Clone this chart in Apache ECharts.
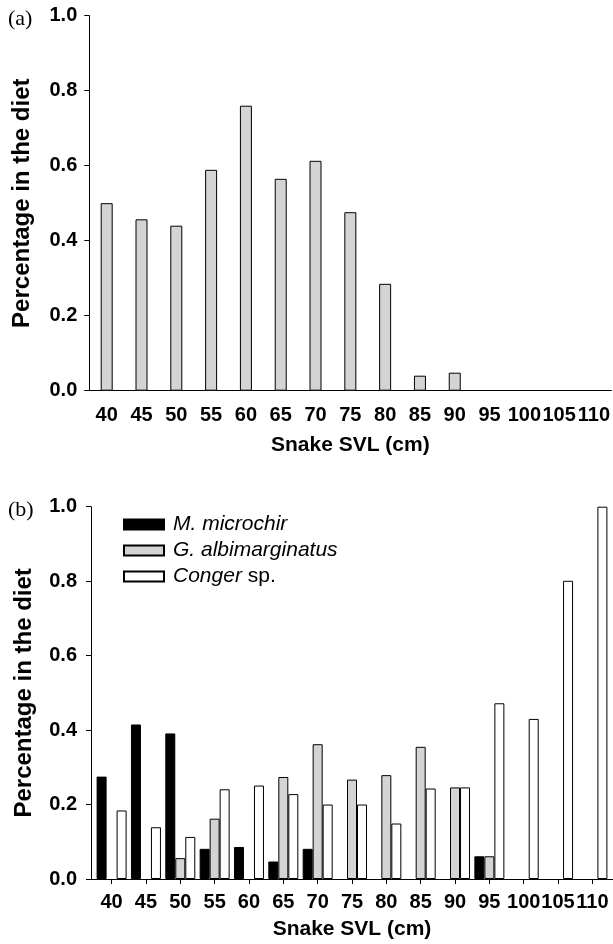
<!DOCTYPE html>
<html lang="en">
<head>
    <meta charset="UTF-8">
    <title>Percentage in the diet by snake SVL</title>
    <style>
        body { margin: 0; background: #fff; }
        #main { width: 613px; height: 944px; }
    </style>
</head>
<body>
<div id="main"></div>
</body>
<script src="https://cdn.jsdelivr.net/npm/echarts@6/dist/echarts.min.js"></script>
<script>
    // size classes (snake SVL, cm)
    var sizeClasses = [40, 45, 50, 55, 60, 65, 70, 75, 80, 85, 90, 95, 100, 105, 110];
    var yTicks = [0, 0.2, 0.4, 0.6, 0.8, 1.0];

    // (a) all prey
    var dietA = [0.50, 0.457, 0.44, 0.589, 0.76, 0.565, 0.613, 0.476, 0.285, 0.04, 0.048, null, null, null, null];

    // (b) per prey species
    var legendNames = ['M. microchir', 'G. albimarginatus', 'Conger sp.'];
    var microchir = [0.275, 0.415, 0.391, 0.081, 0.086, 0.047, 0.081, null, null, null, null, 0.061, null, null, null];
    var albimarginatus = [null, null, 0.056, 0.162, null, 0.274, 0.362, 0.267, 0.279, 0.355, 0.246, 0.061, null, null, null];
    var conger = [0.184, 0.139, 0.113, 0.241, 0.251, 0.228, 0.2, 0.2, 0.149, 0.243, 0.246, 0.472, 0.43, 0.801, 1.0];

    var FONT = 'Liberation Sans';
    var GRAY = '#d4d4d4';

    // [size, value] pairs, empty classes left out so no flat bar is drawn
    function pairs(values) {
        var out = [];
        sizeClasses.forEach(function (s, i) {
            if (values[i] != null) out.push([s, values[i]]);
        });
        return out;
    }

    function yAxisFor(idx, labelMargin) {
        return {
            type: 'value', gridIndex: idx, min: 0, max: 1,
            name: 'Percentage in the diet', nameLocation: 'middle', nameGap: 55,
            nameTextStyle: { fontFamily: FONT, fontWeight: 'bold', fontSize: 24, color: '#000' },
            axisLine: { show: true, onZero: false, lineStyle: { color: '#000', width: 1 } },
            axisTick: { show: true, length: 5, customValues: yTicks, lineStyle: { color: '#000' } },
            axisLabel: {
                customValues: yTicks, margin: labelMargin, color: '#000',
                fontFamily: FONT, fontWeight: 'bold', fontSize: 20,
                formatter: function (v) { return v.toFixed(1); }
            },
            splitLine: { show: false }
        };
    }

    function barSeries(name, color, values) {
        return {
            name: name, type: 'bar', xAxisIndex: 1, yAxisIndex: 1,
            barWidth: 10, barGap: '0%',
            itemStyle: { color: color, borderColor: '#000', borderWidth: 1 },
            data: pairs(values)
        };
    }

    var xNameStyle = { fontFamily: FONT, fontWeight: 'bold', fontSize: 21, color: '#000' };
    var xLabelStyle = { color: '#000', fontFamily: FONT, fontWeight: 'bold', fontSize: 20 };

    var option = {
        animation: false,
        backgroundColor: '#fff',
        grid: [
            { left: 89.3, top: 15.7, width: 525, height: 375 },
            { left: 91, top: 506.7, width: 526, height: 372.3 }
        ],
        xAxis: [
            {
                type: 'category', gridIndex: 0, data: sizeClasses.map(String), boundaryGap: true,
                name: 'Snake SVL (cm)', nameLocation: 'middle', nameGap: 44, nameTextStyle: xNameStyle,
                axisLine: { lineStyle: { color: '#000', width: 1 } },
                axisTick: { alignWithLabel: true, length: 5, lineStyle: { color: '#000' } },
                axisLabel: Object.assign({ margin: 15, interval: 0 }, xLabelStyle),
                splitLine: { show: false }
            },
            {
                type: 'value', gridIndex: 1, min: 37, max: 113,
                name: 'Snake SVL (cm)', nameLocation: 'middle', nameGap: 40, nameTextStyle: xNameStyle,
                axisLine: { onZero: false, lineStyle: { color: '#000', width: 1 } },
                axisTick: { customValues: sizeClasses, length: 5, lineStyle: { color: '#000' } },
                axisLabel: Object.assign({ customValues: sizeClasses, margin: 13 }, xLabelStyle),
                splitLine: { show: false }
            }
        ],
        yAxis: [yAxisFor(0, 12), yAxisFor(1, 14)],
        legend: {
            data: legendNames, orient: 'vertical', left: 123, top: 514, padding: 0,
            itemWidth: 40, itemHeight: 10, itemGap: 5, icon: 'rect',
            textStyle: {
                fontFamily: FONT, fontSize: 21, color: '#000', padding: [0, 0, 0, 4],
                rich: { i: { fontFamily: FONT, fontSize: 21, fontStyle: 'italic', color: '#000' } }
            },
            formatter: function (name) {
                if (name === 'Conger sp.') return '{i|Conger} sp.';
                return '{i|' + name + '}';
            }
        },
        graphic: [
            { type: 'text', left: 8, top: 8, style: { text: '(a)', font: '22px "Liberation Serif"', fill: '#000' } },
            { type: 'text', left: 8, top: 499, style: { text: '(b)', font: '22px "Liberation Serif"', fill: '#000' } }
        ],
        series: [
            {
                name: 'all prey', type: 'bar', xAxisIndex: 0, yAxisIndex: 0, barWidth: 12,
                itemStyle: { color: GRAY, borderColor: '#000', borderWidth: 1 },
                data: dietA
            },
            barSeries(legendNames[0], '#000', microchir),
            barSeries(legendNames[1], GRAY, albimarginatus),
            barSeries(legendNames[2], '#fff', conger)
        ]
    };

    var chart = echarts.init(document.getElementById('main'));
    chart.setOption(option);
</script>
</html>
